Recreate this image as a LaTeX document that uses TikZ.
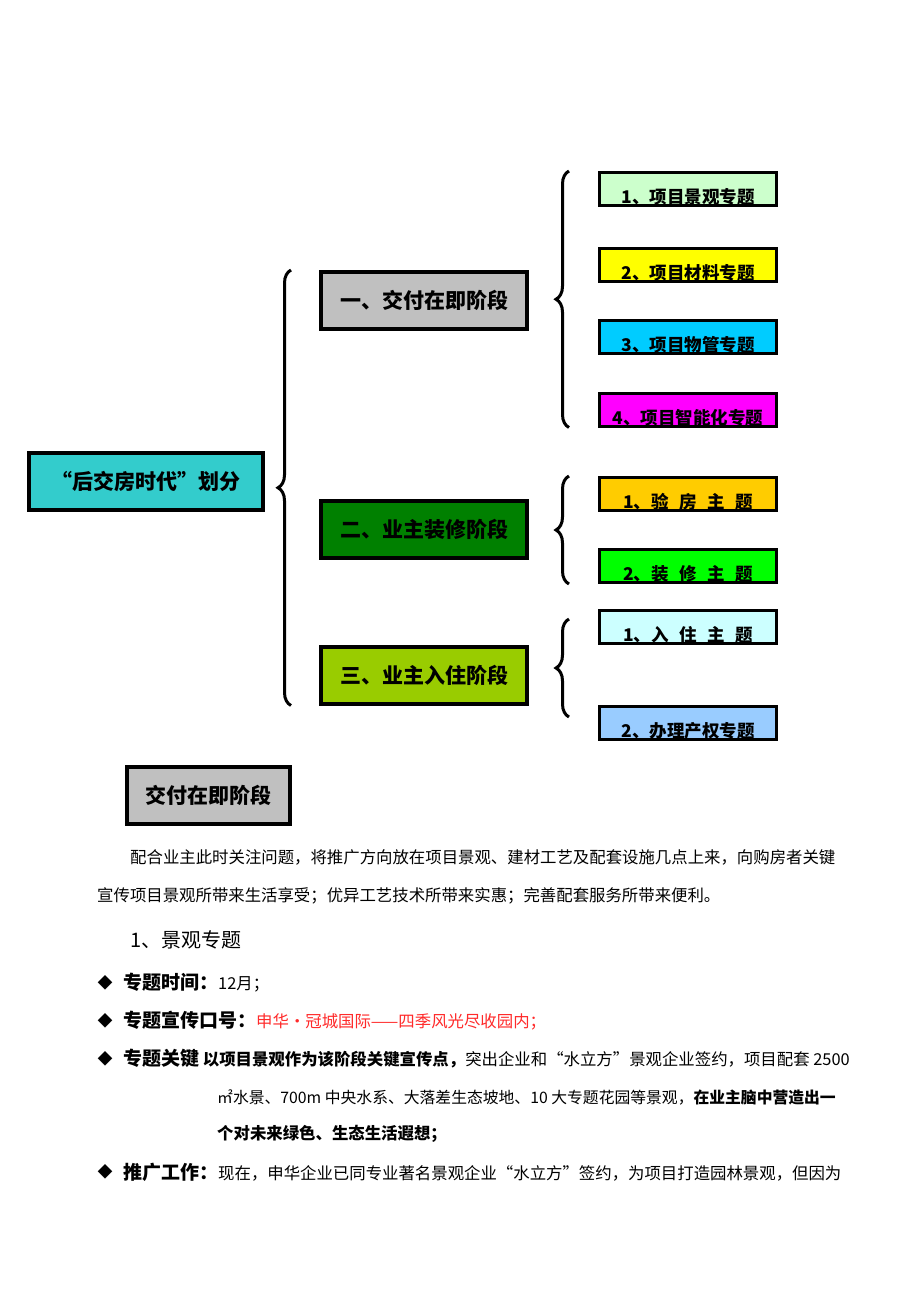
\documentclass[tikz,border=0pt]{standalone}
\usepackage{fontspec}
\setmainfont{Noto Sans CJK SC}
\usepackage{tikz}
\usetikzlibrary{decorations.pathreplacing}
\usepackage{color}
\definecolor{rootc}{HTML}{33CCCC}
\definecolor{greyc}{HTML}{C0C0C0}
\definecolor{greenc}{HTML}{008000}
\definecolor{limec}{HTML}{99CC00}
\definecolor{mintc}{HTML}{CCFFCC}
\definecolor{yellowc}{HTML}{FFFF00}
\definecolor{skyc}{HTML}{00CCFF}
\definecolor{pinkc}{HTML}{FF00FF}
\definecolor{goldc}{HTML}{FFCC00}
\definecolor{brightc}{HTML}{00FF00}
\definecolor{palec}{HTML}{CCFFFF}
\definecolor{bluec}{HTML}{99CCFF}
\definecolor{slogan}{HTML}{FF2A2A}
\newcommand{\bodyfont}{\fontsize{16.4}{20}\selectfont\mdseries}
\newcommand{\labfont}{\fontsize{19}{23}\selectfont\bfseries}
\tikzset{
  phase/.style={draw, line width=4pt, minimum width=206pt, minimum height=57pt, inner sep=0pt,
    font=\fontsize{21}{25}\selectfont\bfseries},
  topic/.style 2 args={draw, line width=3pt, minimum width=177pt, minimum height=33pt,
    path picture={\node[anchor=base, inner sep=0pt, minimum size=0pt,
      font=\fontsize{17.5}{21}\selectfont\bfseries] (#1) at ([yshift=2pt]path picture bounding box.south) {#2};}},
  curly/.style={decorate, decoration={brace, amplitude=13pt}, line width=3pt},
  line/.style={anchor=west, inner sep=0pt, font=\bodyfont},
  dot/.style={inner sep=0pt, font=\fontsize{15}{18}\selectfont}
}

\begin{document}
\begin{tikzpicture}[x=1pt,y=-1pt]
\useasboundingbox[fill=white] (0,0) rectangle (920,1302);

\node[phase, fill=rootc, minimum width=234pt] (root) at (146,481.5) {“后交房时代”划分};
\node[phase, fill=greyc] (s1) at (424,300.5) {一、交付在即阶段};
\node[phase, fill=greenc] (s2) at (424,529.5) {二、业主装修阶段};
\node[phase, fill=limec] (s3) at (424,675) {三、业主入住阶段};

\node[topic={t1l}{1、项目景观专题}, fill=mintc] (t1) at (688,189) {};
\node[topic={t2l}{2、项目材料专题}, fill=yellowc] (t2) at (688,265) {};
\node[topic={t3l}{3、项目物管专题}, fill=skyc] (t3) at (688,337) {};
\node[topic={t4l}{4、项目智能化专题}, fill=pinkc] (t4) at (688,409.5) {};
\node[topic={t5l}{{\spaceskip=.6em\relax 1、验 房 主 题}}, fill=goldc] (t5) at (688,494) {};
\node[topic={t6l}{{\spaceskip=.6em\relax 2、装 修 主 题}}, fill=brightc] (t6) at (688,566) {};
\node[topic={t7l}{{\spaceskip=.6em\relax 1、入 住 主 题}}, fill=palec] (t7) at (688,627) {};
\node[topic={t8l}{2、办理产权专题}, fill=bluec] (t8) at (688,723) {};

\draw[curly] ([xshift=-28pt]s3.south west) -- ([xshift=-28pt]s1.north west);
\draw[curly] ([xshift=-29pt]t4.south west) -- ([xshift=-29pt]t1.north west);
\draw[curly] ([xshift=-29pt]t6.south west) -- ([xshift=-29pt]t5.north west);
\coordinate (b4top) at (569,619);
\coordinate (b4bot) at (569,717);
\draw[curly] (b4bot) -- (b4top);

\node[phase, fill=greyc, minimum width=163pt] (hdr) at (208.5,795.5) {交付在即阶段};

\node[line, font=\fontsize{16.4}{20}\selectfont] (p1) at (130,857) {配合业主此时关注问题，将推广方向放在项目景观、建材工艺及配套设施几点上来，向购房者关键};
\node[line, font=\fontsize{16.4}{20}\selectfont] (p2) at (97,896) {宣传项目景观所带来生活享受；优异工艺技术所带来实惠；完善配套服务所带来便利。};
\node[line, font=\fontsize{20}{24}\selectfont] (h1) at (130,940) {1、景观专题};

\node[dot] (d1) at (105,983) {◆};
\node[line] (l1) at (123,983) {{\labfont 专题时间：}12月；};
\node[dot] (d2) at (105,1021) {◆};
\node[line] (l2) at (123,1021) {{\labfont 专题宣传口号：}\textcolor{slogan}{申华·冠城国际——四季风光尽收园内；}};
\node[dot] (d3) at (105,1059) {◆};
\node[line] (l3) at (123,1059) {{\labfont 专题关键}\ {\bfseries 以项目景观作为该阶段关键宣传点，}突出企业和“水立方”景观企业签约，项目配套 2500};
\node[line, font=\fontsize{15.8}{20}\selectfont] (l4) at (217,1097) {㎡水景、700m 中央水系、大落差生态坡地、10 大专题花园等景观，{\bfseries 在业主脑中营造出一}};
\node[line] (l5) at (217,1134) {\bfseries 个对未来绿色、生态生活遐想；};
\node[dot] (d4) at (105,1172) {◆};
\node[line] (l6) at (123,1172) {{\labfont 推广工作：}现在，申华企业已同专业著名景观企业“水立方”签约，为项目打造园林景观，但因为};
\end{tikzpicture}
\end{document}
